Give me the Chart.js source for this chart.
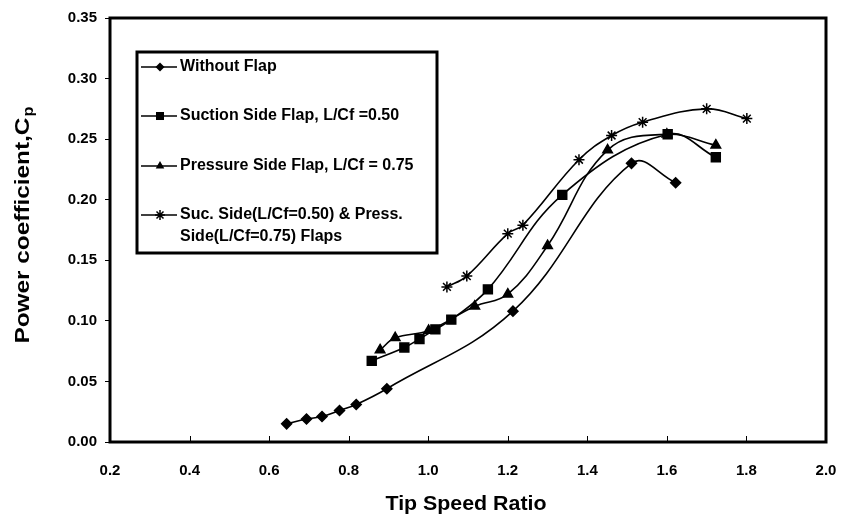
<!DOCTYPE html>
<html>
<head>
<meta charset="utf-8">
<script src="https://cdn.jsdelivr.net/npm/chart.js"></script>
<style>
  body { margin: 0; background: #fff; }
  #wrap { width: 841px; height: 520px; }
</style>
</head>
<body>
<div id="wrap"><canvas id="cpChart" width="841" height="520"></canvas></div>
<script>
// values
const withoutFlapX = [0.644, 0.694, 0.733, 0.777, 0.819, 0.896, 1.213, 1.511, 1.622];
const withoutFlapY = [0.015, 0.019, 0.021, 0.026, 0.031, 0.044, 0.108, 0.230, 0.214];

const suctionX = [0.858, 0.940, 0.978, 1.018, 1.058, 1.150, 1.337, 1.602, 1.723];
const suctionY = [0.067, 0.078, 0.085, 0.093, 0.101, 0.126, 0.204, 0.254, 0.235];

const pressureX = [0.879, 0.917, 1.001, 1.117, 1.200, 1.300, 1.451, 1.600, 1.723];
const pressureY = [0.076, 0.086, 0.092, 0.112, 0.122, 0.162, 0.241, 0.254, 0.245];

const bothX = [1.047, 1.097, 1.200, 1.238, 1.379, 1.461, 1.539, 1.700, 1.801];
const bothY = [0.128, 0.137, 0.172, 0.179, 0.233, 0.253, 0.264, 0.275, 0.267];

const seriesNames = [
    "Without Flap",
    "Suction Side Flap, L/Cf =0.50",
    "Pressure Side Flap, L/Cf = 0.75",
    "Suc. Side(L/Cf=0.50) & Press.|Side(L/Cf=0.75) Flaps"
];
const markerStyles = ["rectRot", "rect", "triangle", "star"];
const markerSizes = [5, 6.3, 5.5, 5.5];

const xTickMin = 0.2, xTickMax = 2.0, xTickStep = 0.2;
const yTickMin = 0, yTickMax = 0.35, yTickStep = 0.05;

const FONT = "'Liberation Sans', Arial, sans-serif";

function toPoints(xs, ys) {
    return xs.map((x, i) => ({ x: x, y: ys[i] }));
}

function makeDataset(i, xs, ys) {
    return {
        label: seriesNames[i],
        data: toPoints(xs, ys),
        showLine: true,
        borderColor: "#000",
        backgroundColor: "#000",
        borderWidth: 1.6,
        tension: 0.4,
        pointStyle: markerStyles[i],
        pointRadius: markerSizes[i],
        pointBorderWidth: 1.5,
        pointBorderColor: "#000",
        pointBackgroundColor: "#000"
    };
}

function drawMarker(ctx, style, x, y, r) {
    ctx.beginPath();
    if (style === "rectRot") {
        ctx.moveTo(x, y - r); ctx.lineTo(x + r, y); ctx.lineTo(x, y + r); ctx.lineTo(x - r, y);
        ctx.closePath(); ctx.fill();
    } else if (style === "rect") {
        const s = r * Math.SQRT1_2;
        ctx.fillRect(x - s, y - s, 2 * s, 2 * s);
    } else if (style === "triangle") {
        ctx.moveTo(x, y - r); ctx.lineTo(x + r * 0.866, y + r * 0.5); ctx.lineTo(x - r * 0.866, y + r * 0.5);
        ctx.closePath(); ctx.fill();
    } else {
        ctx.moveTo(x - r, y); ctx.lineTo(x + r, y);
        ctx.moveTo(x, y - r); ctx.lineTo(x, y + r);
        const d = r * Math.SQRT1_2;
        ctx.moveTo(x - d, y - d); ctx.lineTo(x + d, y + d);
        ctx.moveTo(x - d, y + d); ctx.lineTo(x + d, y - d);
        ctx.stroke();
    }
}

// frame, inner x ticks, axis titles and the boxed legend
const decorations = {
    id: "decorations",
    afterDraw(chart) {
        const ctx = chart.ctx;
        const area = chart.chartArea;
        const xs = chart.scales.x;
        ctx.save();
        ctx.strokeStyle = "#000";
        ctx.fillStyle = "#000";

        // frame
        ctx.lineWidth = 3;
        ctx.strokeRect(area.left, area.top, area.right - area.left, area.bottom - area.top);

        ctx.lineWidth = 1;
        for (let v = xTickMin; v <= xTickMax + 1e-9; v += xTickStep) {
            const px = Math.round(xs.getPixelForValue(v)) + 0.5;
            ctx.beginPath();
            ctx.moveTo(px, area.bottom);
            ctx.lineTo(px, area.bottom - 6);
            ctx.stroke();
        }

        // x title
        ctx.font = "bold 20px " + FONT;
        ctx.textAlign = "left";
        ctx.textBaseline = "middle";
        let t = "Tip Speed Ratio";
        let w = ctx.measureText(t).width;
        ctx.save();
        ctx.translate(466, 504);
        ctx.scale(161 / w, 1);
        ctx.fillText(t, -w / 2, 0);
        ctx.restore();

        // y title with subscript
        ctx.save();
        ctx.translate(23, 225);
        ctx.rotate(-Math.PI / 2);
        const main = "Power coefficient,C";
        ctx.font = "bold 21px " + FONT;
        const wMain = ctx.measureText(main).width;
        ctx.font = "bold 14px " + FONT;
        const wSub = ctx.measureText("p").width;
        const total = wMain + wSub + 1;
        ctx.scale(237 / total, 1);
        ctx.font = "bold 21px " + FONT;
        ctx.fillText(main, -total / 2, 0);
        ctx.font = "bold 14px " + FONT;
        ctx.fillText("p", -total / 2 + wMain + 1, 6);
        ctx.restore();

        // legend box
        const lx = 137, ly = 52, lw = 300, lh = 201;
        ctx.fillStyle = "#fff";
        ctx.fillRect(lx, ly, lw, lh);
        ctx.lineWidth = 3;
        ctx.strokeRect(lx, ly, lw, lh);
        ctx.fillStyle = "#000";
        const rowsY = [67, 116, 166, 215];
        ctx.font = "bold 16px " + FONT;
        ctx.textBaseline = "middle";
        seriesNames.forEach((name, i) => {
            const y = rowsY[i];
            ctx.lineWidth = 1.6;
            ctx.beginPath();
            ctx.moveTo(141, y);
            ctx.lineTo(177, y);
            ctx.stroke();
            ctx.lineWidth = 1.5;
            drawMarker(ctx, markerStyles[i], 160, y, markerSizes[i] * 0.9);
            name.split("|").forEach((line, k) => {
                ctx.fillText(line, 180, y + k * 22);
            });
        });
        ctx.restore();
    }
};

const chart = new Chart(document.getElementById("cpChart").getContext("2d"), {
    type: "scatter",
    data: {
        datasets: [
            makeDataset(0, withoutFlapX, withoutFlapY),
            makeDataset(1, suctionX, suctionY),
            makeDataset(2, pressureX, pressureY),
            makeDataset(3, bothX, bothY)
        ]
    },
    options: {
        responsive: false,
        animation: false,
        layout: { padding: { left: 0, top: 18, right: 15, bottom: 0 } },
        plugins: {
            legend: { display: false },
            tooltip: { enabled: false }
        },
        scales: {
            x: {
                type: "linear",
                min: xTickMin,
                max: xTickMax,
                afterFit(scale) {
                    scale.height = 78;
                    scale.paddingLeft = 0;
                    scale.paddingRight = 0;
                },
                border: { display: false },
                grid: { display: false, drawTicks: false },
                ticks: {
                    stepSize: xTickStep,
                    padding: 20,
                    maxRotation: 0,
                    color: "#000",
                    font: { family: FONT, size: 15, weight: "bold" },
                    callback: (v) => Number(v).toFixed(1)
                }
            },
            y: {
                type: "linear",
                min: yTickMin,
                max: yTickMax,
                afterFit(scale) {
                    scale.width = 110;
                    scale.paddingTop = 0;
                    scale.paddingBottom = 0;
                },
                border: { display: false },
                grid: { display: true, drawOnChartArea: false, drawTicks: true, tickLength: 5, color: "#000" },
                ticks: {
                    stepSize: yTickStep,
                    padding: 8,
                    color: "#000",
                    font: { family: FONT, size: 15, weight: "bold" },
                    callback: (v) => Number(v).toFixed(2)
                }
            }
        }
    },
    plugins: [decorations]
});
</script>
</body>
</html>
